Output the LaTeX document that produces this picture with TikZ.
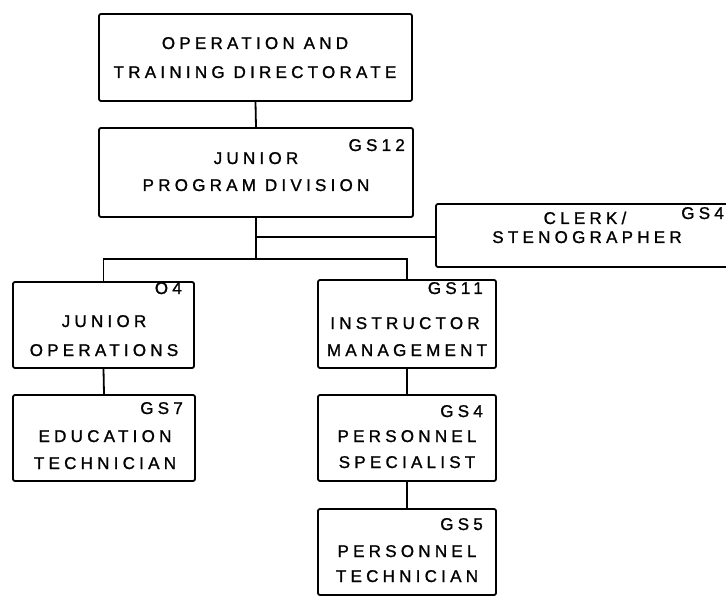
\documentclass[tikz,border=0pt]{standalone}
\usepackage{fontspec}
\newfontfamily\orgfont[LetterSpace=25,FakeBold=1.2]{Liberation Sans}
\begin{document}
\begin{tikzpicture}[x=1pt,y=-1pt,
  unit/.style={draw, line width=1.8pt, rounded corners=2pt, rectangle, inner sep=0pt},
  txt/.style={font=\orgfont\fontsize{17}{20}\selectfont, inner sep=0pt, anchor=base},
  grade/.style={font=\orgfont\fontsize{17}{20}\selectfont, inner sep=0pt, anchor=base east},
  link/.style={line width=1.8pt}]
\useasboundingbox (0,0) rectangle (726,596);
\clip (0,0) rectangle (726,596);

% boxes
\node[unit, minimum width=313pt, minimum height=87pt] (dir) at (255.5,57.5) {};
\node[unit, minimum width=314pt, minimum height=89pt] (jpd) at (256,172.5) {};
\node[unit, minimum width=298pt, minimum height=63pt] (clk) at (585,235.5) {};
\node[unit, minimum width=181pt, minimum height=86pt] (jop) at (103.5,325) {};
\node[unit, minimum width=182pt, minimum height=86pt] (edu) at (104,438) {};
\node[unit, minimum width=178pt, minimum height=88pt] (ins) at (407,324) {};
\node[unit, minimum width=178pt, minimum height=86pt] (pspec) at (407,438) {};
\node[unit, minimum width=178pt, minimum height=86pt] (ptech) at (407,552) {};

% texts
\node[txt] (dir1) at (255,49) {OPERATION AND};
\node[txt] (dir2) at (255,78) {TRAINING DIRECTORATE};

\node[grade] (jpdg) at (405,151) {GS12};
\node[txt] (jpd1) at (256,164) {JUNIOR};
\node[txt] (jpd2) at (256,191) {PROGRAM DIVISION};

\node[grade] (clkg) at (724,219) {GS4};
\node[txt] (clk1) at (585,224) {CLERK/};
\node[txt] (clk2) at (587,243) {STENOGRAPHER};

\node[grade] (jopg) at (182,294) {O4};
\node[txt] (jop1) at (104,327) {JUNIOR};
\node[txt] (jop2) at (104,356) {OPERATIONS};

\node[grade] (edug) at (183,414) {GS7};
\node[txt] (edu1) at (105,442) {EDUCATION};
\node[txt] (edu2) at (105,469) {TECHNICIAN};

\node[grade] (insg) at (483,294) {GS11};
\node[txt] (ins1) at (405,329) {INSTRUCTOR};
\node[txt] (ins2) at (407,356) {MANAGEMENT};

\node[grade] (pspecg) at (483,417) {GS4};
\node[txt] (pspec1) at (407,442) {PERSONNEL};
\node[txt] (pspec2) at (407,468) {SPECIALIST};

\node[grade] (ptechg) at (483,530) {GS5};
\node[txt] (ptech1) at (407,557) {PERSONNEL};
\node[txt] (ptech2) at (407,582) {TECHNICIAN};

% junction points
\coordinate (jc) at (256,237);
\coordinate (jb) at (256,259);

% connectors
\draw[link] (dir.south) -- (jpd.north);
\draw[link] (jpd.south) -- (jb);
\draw[link] (jc) -- (clk.west |- jc);
\draw[link] (jop.north) |- (jb) -| (ins.north);
\draw[link] (jop.south) -- (edu.north);
\draw[link] (ins.south) -- (pspec.north);
\draw[link] (pspec.south) -- (ptech.north);
\end{tikzpicture}
\end{document}
